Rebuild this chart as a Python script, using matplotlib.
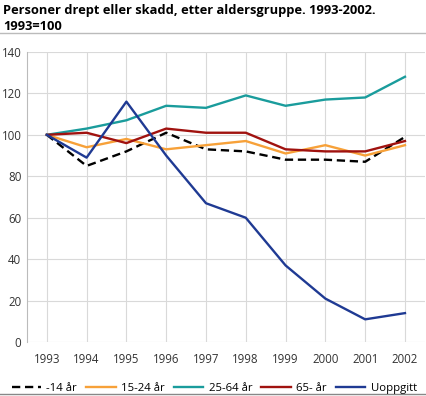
import matplotlib
matplotlib.use("Agg")
import matplotlib.pyplot as plt
from matplotlib.lines import Line2D

plt.rcParams['font.family'] = ['Open Sans', 'DejaVu Sans']

years = [1993, 1994, 1995, 1996, 1997, 1998, 1999, 2000, 2001, 2002]

under14 = [100, 85, 92, 101, 93, 92, 88, 88, 87, 99]
age15_24 = [100, 94, 98, 93, 95, 97, 91, 95, 90, 95]
age25_64 = [100, 103, 107, 114, 113, 119, 114, 117, 118, 128]
over65 = [100, 101, 96, 103, 101, 101, 93, 92, 92, 97]
unknown = [100, 89, 116, 90, 67, 60, 37, 21, 11, 14]

labels = ['-14 år', '15-24 år', '25-64 år', '65- år', 'Uoppgitt']
colors = ['#000000', '#f7a139', '#1a9c9c', '#a0120f', '#1f3a93']
styles = ['--', '-', '-', '-', '-']

fig = plt.figure(figsize=(4.27, 3.96), dpi=100)
ax = fig.add_axes([0.063, 0.136, 0.932, 0.733])

series = [under14, age15_24, age25_64, over65, unknown]
for vals, lab, c, ls in zip(series, labels, colors, styles):
    ax.plot(years, vals, color=c, linestyle=ls, linewidth=1.7, label=lab,
            dashes=(3.5, 2) if ls == '--' else (None, None))

ax.set_xlim(1992.5, 2002.5)
ax.set_ylim(0, 140)
ax.set_xticks(years)
ax.set_yticks(range(0, 141, 20))
ax.grid(True, color='#d9d9d9', linewidth=0.8)
ax.set_axisbelow(True)
for s in ['top', 'right', 'bottom']:
    ax.spines[s].set_visible(False)
ax.spines['left'].set_color('#bbbbbb')
ax.tick_params(length=0, labelsize=8.3, colors='#333333', pad=4)
ax.tick_params(axis='x', pad=8)

fig.text(0.008, 0.99, 'Personer drept eller skadd, etter aldersgruppe. 1993-2002.\n1993=100',
         fontsize=9.3, fontweight='bold', va='top', ha='left', linespacing=1.3)
fig.add_artist(Line2D([0, 0.995], [0.917, 0.917], color='#bbbbbb', linewidth=1))
fig.add_artist(Line2D([0, 0.995], [0.005, 0.005], color='#888888', linewidth=1))

fig.legend(loc='lower left', bbox_to_anchor=(0.022, 0.0), ncol=5, frameon=False,
           fontsize=8.2, handlelength=2.6, handletextpad=0.45, columnspacing=0.8,
           borderaxespad=0.05, borderpad=0.15)

fig.savefig('out.png', dpi=100)
